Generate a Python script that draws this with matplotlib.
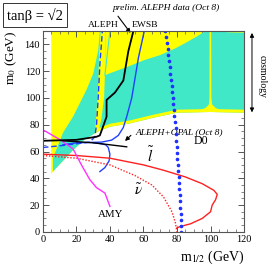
import numpy as np
import matplotlib
matplotlib.use("Agg")
import matplotlib.pyplot as plt
from matplotlib.patches import Polygon, FancyArrowPatch

plt.rcParams['font.family'] = ['Liberation Serif', 'DejaVu Serif']
plt.rcParams['mathtext.fontset'] = 'stix'

# --- region outlines (m1/2, m0) in GeV ---
colored_bottom_x = [120, 100, 80, 65, 52, 40, 33, 25, 18, 12, 6, 5]
colored_bottom_y = [89, 89.5, 89, 85, 81, 78.5, 75, 69, 61, 53, 45, 43]

cosmo_left_x = [6, 6, 12, 18, 26, 30, 33, 34]
cosmo_left_y = [45, 55, 74, 86, 106, 118, 135, 150]
cosmo_upper_x = [37.5, 37, 50, 60, 70, 79, 85, 92, 97]
cosmo_upper_y = [150, 117, 123, 128, 132, 137, 141, 146, 150]

strip_left_x = [31, 32, 33, 33.5, 34.5]
strip_left_y = [73, 90, 110, 130, 150]
strip_right_x = [37.5, 37, 36.5, 35, 33.5]
strip_right_y = [150, 117, 100, 85, 76]

# --- limit curves ---
aleph_dash_x = [0, 12, 28, 31, 32, 33, 34, 35.5]
aleph_dash_y = [63, 64.5, 67, 71, 80, 100, 125, 150]

ewsb_x = [60.5, 57, 53, 50, 48, 45, 41, 35, 20, 12]
ewsb_y = [150, 130, 100, 86, 78, 72, 68.5, 67, 66.5, 65]

blue_low_x = [30, 34, 37.5, 39, 40, 39.5, 37, 34]
blue_low_y = [66.5, 66, 65, 63, 58, 53, 48, 45]

prelim_x = [54, 51, 48, 43, 38, 38, 34, 32, 20, 0]
prelim_y = [150, 135, 113, 104, 98.5, 86, 72, 71, 68.7, 68]

aleph_opal_x = [12, 30, 50]
aleph_opal_y = [68, 66.5, 63.5]

slep_x = [0, 20, 40, 60, 72, 85, 95, 102, 104, 103, 101, 100, 95, 88, 82, 80]
slep_y = [58, 57, 55, 50, 46, 41, 36, 31, 28, 24, 20, 15, 10, 6, 4, 3]

snu_x = [0, 20, 40, 55, 65, 72, 77, 79, 80]
snu_y = [57, 55, 50, 42, 35, 26, 15, 7, 0]

d0_x = [73, 75, 77, 79, 80.5, 82, 82.5]
d0_y = [150, 130, 106, 80, 50, 20, 0]

amy_x = [1, 10, 18, 23, 28, 32, 37, 40]
amy_y = [75.5, 69, 62, 50, 39, 33, 29, 19]

YEL = '#FFFF00'
CYAN = '#40E8C8'
BLUE = '#2040FF'

fig = plt.figure(figsize=(2.73, 2.69), dpi=100)
ax = fig.add_axes([0.157, 0.138, 0.737, 0.747])

# yellow: full coloured area
ypts = [(5, 150), (120, 150)] + list(zip(colored_bottom_x, colored_bottom_y))
ax.add_patch(Polygon(ypts, closed=True, fc=YEL, ec='none', zorder=1))

# cyan (cosmology) area
cpts = list(zip(cosmo_left_x, cosmo_left_y)) + list(zip(cosmo_upper_x, cosmo_upper_y)) \
    + [(120, 150)] + list(zip(colored_bottom_x[:-1], colored_bottom_y[:-1]))
ax.add_patch(Polygon(cpts, closed=True, fc=CYAN, ec='none', zorder=2))

# yellow strip along the dashed ALEPH line
spts = list(zip(strip_left_x, strip_left_y)) + list(zip(strip_right_x, strip_right_y))
ax.add_patch(Polygon(spts, closed=True, fc=YEL, ec='none', zorder=3))

# yellow band along the bottom of the cosmology region
bx = np.array(colored_bottom_x[:7], float)
by = np.array(colored_bottom_y[:7], float)
band = list(zip(bx, by)) + list(zip(bx[::-1], by[::-1] + 2.2))
ax.add_patch(Polygon(band, closed=True, fc=YEL, ec='none', zorder=3))

# narrow yellow spike near m1/2 = 100
spike = [(99.4, 150), (100.4, 150), (100.5, 100), (101, 95), (103, 92.5), (106, 91),
         (94, 91), (97, 92.5), (99, 95), (99.4, 100)]
ax.add_patch(Polygon(spike, closed=True, fc=YEL, ec='none', zorder=3))
ax.add_patch(Polygon([(108, 150), (120, 150), (120, 148.7), (110, 149)],
                     closed=True, fc=YEL, ec='none', zorder=3))
ax.plot([37, 40], [117, 150], color=CYAN, lw=0.8, zorder=3)

# curves
ax.plot(aleph_dash_x, aleph_dash_y, color=BLUE, lw=1.0, ls=(0, (4, 2)), zorder=5)
ax.plot(ewsb_x, ewsb_y, color=BLUE, lw=1.0, zorder=5)
ax.plot(blue_low_x, blue_low_y, color=BLUE, lw=1.0, zorder=5)
ax.plot(prelim_x, prelim_y, color='black', lw=1.3, zorder=6)
ax.plot(aleph_opal_x, aleph_opal_y, color='black', lw=1.0, zorder=6)
ax.plot(slep_x, slep_y, color='#FF2020', lw=1.0, zorder=5)
ax.plot(snu_x, snu_y, color='#FF2020', lw=1.0, ls=(0, (1, 1.2)), zorder=5)
d0_fine_y = np.linspace(0, 150, 34)
ax.plot(np.interp(d0_fine_y, d0_y[::-1], d0_x[::-1]), d0_fine_y, ls='none',
        marker='o', ms=1.6, color='#2030FF', zorder=5)
ax.plot(amy_x, amy_y, color='#FF30FF', lw=1.0, zorder=5)

ax.set_xlim(0, 120)
ax.set_ylim(0, 150)
ax.set_xticks(np.arange(0, 121, 20))
ax.set_yticks(np.arange(0, 141, 20))
ax.set_xticks(np.arange(0, 121, 5), minor=True)
ax.set_yticks(np.arange(0, 151, 5), minor=True)
ax.tick_params(which='both', direction='in', top=True, right=True, color='#555555',
               labelsize=7.5, pad=2)
ax.tick_params(which='major', length=4, width=0.7)
ax.tick_params(which='minor', length=2, width=0.5)
for s in ax.spines.values():
    s.set_color('#555555')
    s.set_linewidth(0.8)
    s.set_zorder(10)

ax.set_xlabel('m$_{1/2}$ (GeV)', fontsize=10, loc='right')
ax.xaxis.set_label_coords(1.0, -0.085)
ax.set_ylabel('m$_0$ (GeV)', fontsize=9.5, loc='top')
ax.yaxis.set_label_coords(-0.12, 1.0)

# texts
fig.text(0.128, 0.944, 'tanβ = √2', fontsize=10.5, ha='center', va='center',
         bbox=dict(boxstyle='square,pad=0.3', fc='white', ec='#333333', lw=0.7))
ax.text(73.4, 167, 'prelim. ALEPH data (Oct 8)', fontsize=6.8, style='italic',
        ha='center', va='center')
ax.text(35.8, 154.5, 'ALEPH', fontsize=6.8, ha='center', va='center')
ax.text(61, 154.5, 'EWSB', fontsize=6.8, ha='center', va='center')
ax.annotate('', xy=(52.3, 148.5), xytext=(44.8, 161),
            arrowprops=dict(arrowstyle='-|>', color='black', lw=0.8, mutation_scale=6,
                            shrinkA=0, shrinkB=0),
            annotation_clip=False)
ax.text(55.5, 74.6, 'ALEPH+OPAL (Oct 8)', fontsize=6.8, style='italic', va='center')
ax.annotate('', xy=(47.8, 66.4), xytext=(53.7, 73.5),
            arrowprops=dict(arrowstyle='-|>', color='black', lw=0.8, mutation_scale=6))
ax.text(90, 68, 'D0', fontsize=8.5, ha='left', va='center')
ax.text(64, 57.5, r'$\tilde{l}$', fontsize=11, ha='center', va='center')
ax.text(57, 31, r'$\tilde{\nu}$', fontsize=11, ha='center', va='center')
ax.text(40.5, 12.7, 'AMY', fontsize=7.8, ha='center', va='center')

fig.text(0.96, 0.714, 'cosmology', fontsize=7, rotation=270, ha='center', va='center')
fig.add_artist(FancyArrowPatch((0.923, 0.888), (0.923, 0.572), transform=fig.transFigure,
                               arrowstyle='<|-|>', mutation_scale=6, lw=0.7, color='black'))

fig.savefig('out.png', dpi=100)
